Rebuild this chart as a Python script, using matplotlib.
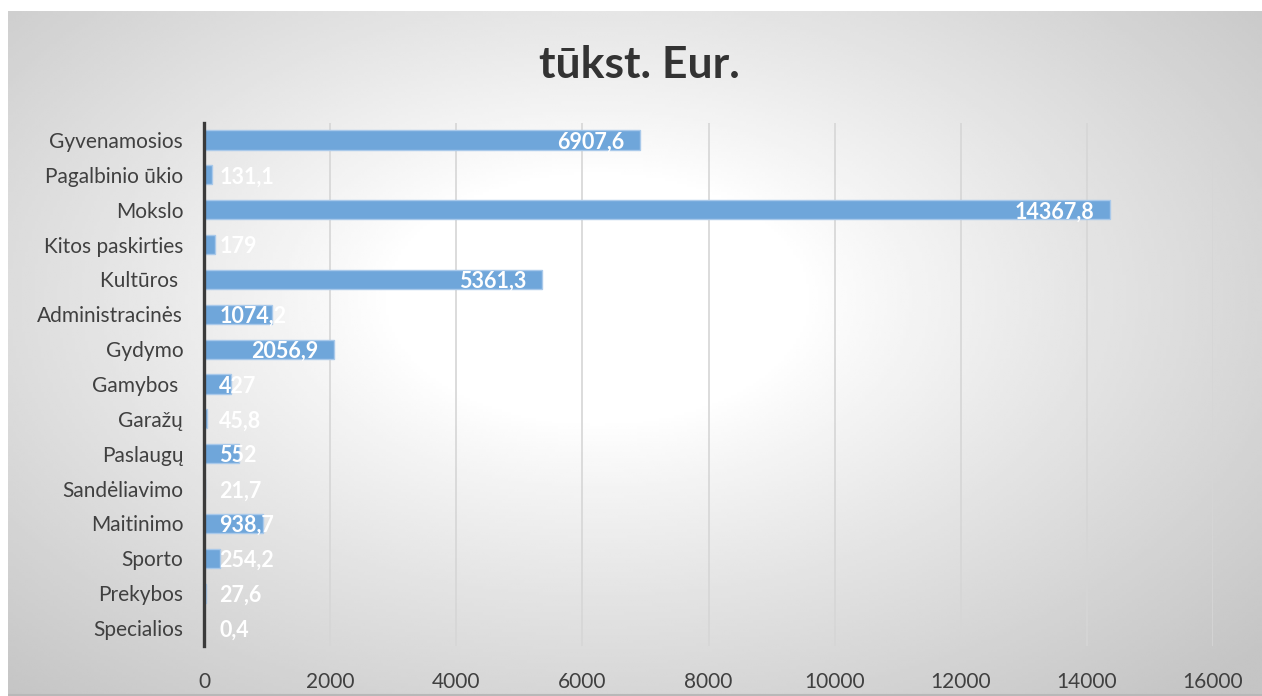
import numpy as np
import matplotlib
matplotlib.use("Agg")
import matplotlib.pyplot as plt

# category labels, top to bottom
categories = ["Gyvenamosios", "Pagalbinio ūkio", "Mokslo", "Kitos paskirties", "Kultūros ",
              "Administracinės", "Gydymo", "Gamybos ", "Garažų", "Paslaugų",
              "Sandėliavimo", "Maitinimo", "Sporto", "Prekybos", "Specialios"]
values = [6907.6, 131.1, 14367.8, 179, 5361.3,
          1074.2, 2056.9, 427, 45.8, 552,
          21.7, 938.7, 254.2, 27.6, 0.4]
xticks = [0, 2000, 4000, 6000, 8000, 10000, 12000, 14000, 16000]
title = "tūkst. Eur."

plt.rcParams['font.family'] = ['Lato', 'DejaVu Sans']

W, H = 1262, 696
fig = plt.figure(figsize=(W / 100, H / 100), dpi=100)
fig.patch.set_facecolor("white")

# radial grey background of the chart area
bg = fig.add_axes([8 / W, 0, 1 - 8 / W, 1 - 11 / H])
bg.set_axis_off()
gx, gy = np.meshgrid(np.linspace(0, 1, 400), np.linspace(0, 1, 240))
r = np.sqrt(((gx - 0.47) / 0.53) ** 2 + ((gy - 0.42) / 0.58) ** 2) / np.sqrt(2)
shade = 1 - (1 - 0.77) * np.clip((r - 0.22) / 0.73, 0, 1) ** 0.9
bg.imshow(shade, cmap="gray", vmin=0, vmax=1, aspect="auto",
          extent=[0, 1, 1, 0], interpolation="bilinear")
bg.plot([0, 1], [0.002, 0.002], color="#b8b8b8", lw=1.5, transform=bg.transAxes)

ax = fig.add_axes([204 / W, 1 - 645.5 / H, (1213 - 204) / W, (645.5 - 122.6) / H])
ax.patch.set_alpha(0)

y = np.arange(len(categories))
ax.barh(y, values, height=0.55, color="#6fa6da", edgecolor="#a9c9ea", linewidth=1, zorder=3)
ax.set_ylim(len(categories) - 0.5, -0.5)
ax.set_xlim(0, 16000)
ax.set_yticks(y)
ax.set_yticklabels(categories)
ax.set_xticks(xticks)
ax.tick_params(axis="both", length=0, labelsize=15, colors="#404040")
ax.tick_params(axis="y", pad=15)
ax.tick_params(axis="x", pad=19)
ax.grid(axis="x", color="#d6d6d6", lw=1.2, zorder=0)
for s in ["top", "right", "bottom"]:
    ax.spines[s].set_visible(False)
ax.spines["left"].set_color("#3a3a3a")
ax.spines["left"].set_linewidth(2.4)
ax.spines["left"].set_zorder(4)

fig.canvas.draw()
rend = fig.canvas.get_renderer()
px_per_unit = ax.transData.transform((1, 0))[0] - ax.transData.transform((0, 0))[0]
for yi, v in zip(y, values):
    lab = f"{v:g}".replace(".", ",")
    t = ax.annotate(lab, (v, yi), xytext=(-11, -1.5), textcoords="offset points",
                    ha="right", va="center", color="white", fontsize=15.5,
                    fontweight="bold", zorder=5)
    tw = t.get_window_extent(rend).width
    if v * px_per_unit < tw + 30:
        t.xy = (0, yi)
        t.xyann = (11, -1.5)
        t.set_ha("left")

fig.text(0.507, 0.907, title, ha="center", va="center", fontsize=32,
         fontweight="bold", color="#333333")

fig.savefig("out.png", dpi=100)
